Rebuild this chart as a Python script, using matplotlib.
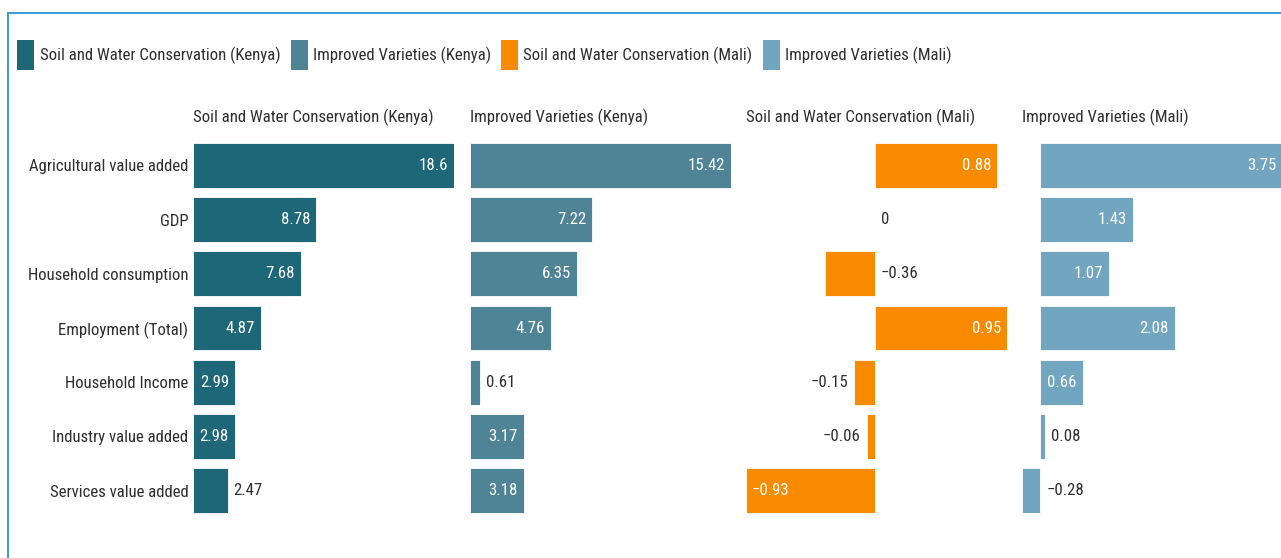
import matplotlib
matplotlib.use('Agg')
import matplotlib.pyplot as plt
from matplotlib import font_manager as fm
from matplotlib.font_manager import FontProperties
from matplotlib.textpath import TextPath
from matplotlib.lines import Line2D
from matplotlib.patches import Rectangle

# ---------------- data ----------------
categories = ["Agricultural value added", "GDP", "Household consumption",
              "Employment (Total)", "Household Income", "Industry value added",
              "Services value added"]
series_names = ["Soil and Water Conservation (Kenya)", "Improved Varieties (Kenya)",
                "Soil and Water Conservation (Mali)", "Improved Varieties (Mali)"]
swc_kenya = [18.6, 8.78, 7.68, 4.87, 2.99, 2.98, 2.47]
iv_kenya = [15.42, 7.22, 6.35, 4.76, 0.61, 3.17, 3.18]
swc_mali = [0.88, 0, -0.36, 0.95, -0.15, -0.06, -0.93]
iv_mali = [3.75, 1.43, 1.07, 2.08, 0.66, 0.08, -0.28]
series_colors = ["#1e6779", "#4f8497", "#f88b00", "#72a5bf"]

# ---------------- font ----------------
names = {f.name for f in fm.fontManager.ttflist}
FONT = None
for cand in ["Roboto Condensed", "Liberation Sans Narrow", "Arial Narrow"]:
    if cand in names:
        FONT = cand
        break
STRETCH = "normal"
if FONT is None:
    if any(f.name == "DejaVu Sans" and f.stretch == "condensed" for f in fm.fontManager.ttflist):
        FONT, STRETCH = "DejaVu Sans", "condensed"
    else:
        FONT = "Roboto"
plt.rcParams['font.family'] = [FONT, "DejaVu Sans"]
plt.rcParams['font.stretch'] = STRETCH

fp = FontProperties(family=FONT, stretch=STRETCH)
W, H = 1281, 558
DPI = 100


def text_px(s, size):
    return TextPath((0, 0), s, size=size, prop=fp).get_extents().width * DPI / 72


# fit font size so that a title string is ~240 px wide (as in the reference)
FS = 10 * 240 / text_px(series_names[0], 10)
TXT = "#2e2e2e"

fig = plt.figure(figsize=(W / DPI, H / DPI), dpi=DPI)


def fx(px):
    return px / W


def fy(py):
    return 1 - py / H


# outer frame (top and left edges visible)
fig.add_artist(Line2D([fx(7.5), fx(W + 5)], [fy(12.5), fy(12.5)], color="#3a9ad9",
                      lw=1.4, transform=fig.transFigure))
fig.add_artist(Line2D([fx(7.5), fx(7.5)], [fy(12.5), fy(H + 5)], color="#3a9ad9",
                      lw=1.4, transform=fig.transFigure))

# legend
x = 17
for name, col in zip(series_names, series_colors):
    fig.add_artist(Rectangle((fx(x), fy(70)), fx(17), 30 / H, facecolor=col,
                             edgecolor="none", transform=fig.transFigure))
    fig.text(fx(x + 22.5), fy(55), name, fontsize=FS, color=TXT, va="center", ha="left")
    x = x + 22.5 + text_px(name, FS) + 11

# panels
panel_lefts = [193, 470, 746, 1022]
panel_w = 261
row0, row_step = 165.5, 54.17
top_px = row0 - row_step / 2
bot_px = row0 + row_step * 6.5
all_series = [swc_kenya, iv_kenya, swc_mali, iv_mali]
PAD = 6  # px

for k, (vals, name, col, L) in enumerate(zip(all_series, series_names, series_colors, panel_lefts)):
    ax = fig.add_axes([fx(L), fy(bot_px), fx(panel_w), (bot_px - top_px) / H])
    lo, hi = min(0, min(vals)), max(0, max(vals))
    ax.set_xlim(lo, hi)
    ax.set_ylim(6.5, -0.5)
    ypos = list(range(len(categories)))
    ax.barh(ypos, vals, height=0.83, color=col, edgecolor="white", linewidth=0.6)
    for s in ax.spines.values():
        s.set_visible(False)
    ax.set_xticks([])
    if k == 0:
        ax.set_yticks(ypos, categories)
        ax.tick_params(axis="y", length=0, pad=PAD * 72 / DPI * 0.75, labelsize=FS,
                       labelcolor=TXT)
    else:
        ax.set_yticks([])
    ppu = panel_w / (hi - lo)
    off = PAD * 72 / DPI
    for i, v in enumerate(vals):
        lab = f"{v:g}".replace("-", "\u2212")
        tw = text_px(lab, FS)
        bar_px = abs(v) * ppu
        inside = v != 0 and bar_px >= 1.5 * tw
        if inside:
            x0, dx, ha, c = (v, -off, "right", "white") if v > 0 else (v, off, "left", "white")
        elif v >= 0:
            x0, dx, ha, c = v, off, "left", TXT
        else:
            space_left = (v - lo) * ppu
            if space_left >= 3 * tw:
                x0, dx, ha, c = v, -off, "right", TXT
            else:
                x0, dx, ha, c = 0, off, "left", TXT
        ax.annotate(lab, (x0, i), xytext=(dx, 0), textcoords="offset points",
                    ha=ha, va="center", fontsize=FS, color=c)
    fig.text(fx(L), fy(117), name, fontsize=FS, color=TXT, ha="left", va="center")

fig.savefig("out.png", dpi=DPI)
